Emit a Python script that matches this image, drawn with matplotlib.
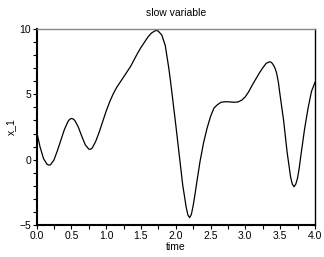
import matplotlib
matplotlib.use("Agg")
import matplotlib.pyplot as plt
from matplotlib.ticker import MultipleLocator

# values (denser around the sharp turns)
time = [0.00, 0.05, 0.10, 0.15, 0.175, 0.20, 0.25, 0.30, 0.35, 0.40, 0.45,
        0.475, 0.50, 0.525, 0.55, 0.60, 0.65, 0.70, 0.75, 0.775, 0.80, 0.85,
        0.90, 0.95, 1.00, 1.05, 1.10, 1.15, 1.20, 1.25, 1.30, 1.35, 1.40,
        1.45, 1.50, 1.55, 1.60, 1.65, 1.70, 1.725, 1.75, 1.80, 1.85, 1.90,
        1.925, 1.95, 2.00, 2.05, 2.10, 2.15, 2.175, 2.20, 2.225, 2.25, 2.275,
        2.30, 2.35, 2.40, 2.45, 2.50, 2.55, 2.60, 2.65, 2.70, 2.75, 2.80,
        2.85, 2.90, 2.95, 3.00, 3.05, 3.10, 3.15, 3.20, 3.25, 3.30, 3.35,
        3.375, 3.40, 3.425, 3.45, 3.475, 3.50, 3.55, 3.60, 3.65, 3.675, 3.70,
        3.725, 3.75, 3.775, 3.80, 3.85, 3.90, 3.95, 4.00]
x_1 = [2.2, 1.0, 0.1, -0.33, -0.4, -0.38, -0.02, 0.7, 1.5, 2.3, 2.9,
       3.08, 3.15, 3.12, 3.0, 2.5, 1.8, 1.15, 0.82, 0.8, 0.9, 1.4,
       2.1, 2.9, 3.7, 4.4, 5.0, 5.5, 5.9, 6.3, 6.7, 7.1, 7.6,
       8.1, 8.55, 8.95, 9.35, 9.65, 9.82, 9.85, 9.8, 9.5, 8.7, 7.0,
       6.0, 4.9, 2.7, 0.4, -1.9, -3.6, -4.2, -4.4, -4.15, -3.5, -2.7,
       -1.8, -0.1, 1.3, 2.4, 3.3, 3.95, 4.2, 4.38, 4.42, 4.42, 4.4,
       4.38, 4.42, 4.55, 4.8, 5.2, 5.7, 6.15, 6.6, 7.0, 7.35, 7.47,
       7.42, 7.25, 7.0, 6.6, 5.9, 4.9, 3.0, 0.6, -1.3, -1.85, -2.05,
       -1.85, -1.4, -0.6, 0.4, 2.3, 3.9, 5.2, 5.9]

plt.rcParams['font.family'] = ['Liberation Sans', 'DejaVu Sans']

fig = plt.figure(figsize=(3.24, 2.57), dpi=100)
ax = fig.add_axes([0.1127, 0.1226, 0.8593, 0.7664])

ax.plot(time, x_1, color='black', linewidth=0.9)

ax.set_xlim(0, 4)
ax.set_ylim(-5, 10)
ax.xaxis.set_major_locator(MultipleLocator(0.5))
ax.xaxis.set_minor_locator(MultipleLocator(0.25))
ax.yaxis.set_major_locator(MultipleLocator(5))
ax.yaxis.set_minor_locator(MultipleLocator(1))
ax.xaxis.set_major_formatter(plt.FuncFormatter(lambda v, p: f"{v:.1f}"))

ax.tick_params(which='both', direction='out', length=3, width=0.8,
               labelsize=7.5, pad=1, color='black')

ax.spines['left'].set_linewidth(1.5)
ax.spines['bottom'].set_linewidth(1.5)
ax.spines['right'].set_linewidth(1.0)
ax.spines['top'].set_linewidth(1.0)
ax.spines['top'].set_color('#888888')

ax.set_title('slow variable', fontsize=7.5, pad=9)
ax.set_xlabel('time', fontsize=7.5, labelpad=1)
ax.set_ylabel('x_1', fontsize=7.5, labelpad=2)

fig.savefig('out.png', dpi=100)
